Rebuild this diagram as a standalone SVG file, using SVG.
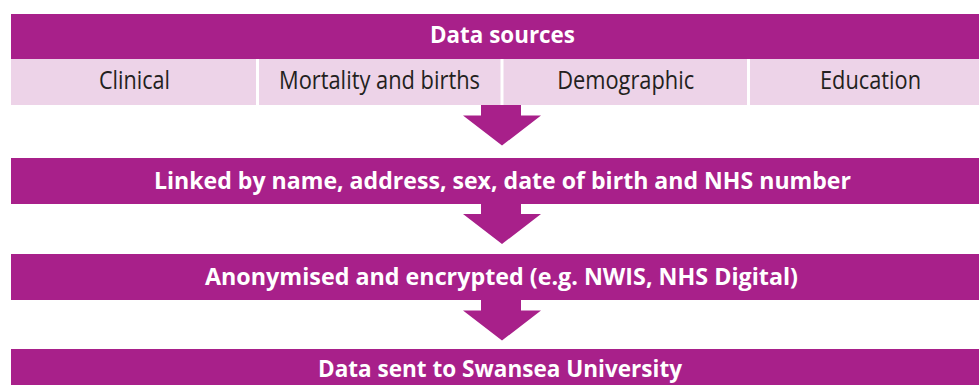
<svg xmlns="http://www.w3.org/2000/svg" width="979" height="385" viewBox="0 0 979 385">
<style>
.bar{fill:#A8208A}
.cell{fill:#EDD3E8}
.hd{font-family:"Open Sans","Liberation Sans",sans-serif;font-weight:bold;font-size:23px;fill:#FFFFFF;text-anchor:middle}
.src{font-family:"Open Sans","Liberation Sans",sans-serif;font-size:25px;fill:#231F20;text-anchor:middle}
.arrow{fill:#A8208A}
</style>
<rect width="979" height="385" fill="#FFFFFF"/>
<g id="data-sources">
<rect class="bar" x="11" y="14" width="968" height="45"/>
<text class="hd" x="502.5" y="42.5" textLength="145" lengthAdjust="spacingAndGlyphs">Data sources</text>
</g>
<g id="clinical">
<rect class="cell" x="11" y="59" width="245" height="46"/>
<text class="src" x="134.5" y="89" textLength="71" lengthAdjust="spacingAndGlyphs">Clinical</text>
</g>
<g id="mortality">
<rect class="cell" x="259" y="59" width="241.5" height="46"/>
<text class="src" x="379.5" y="89" textLength="201" lengthAdjust="spacingAndGlyphs">Mortality and births</text>
</g>
<g id="demographic">
<rect class="cell" x="503.5" y="59" width="243.5" height="46"/>
<text class="src" x="625.7" y="89" textLength="137" lengthAdjust="spacingAndGlyphs">Demographic</text>
</g>
<g id="education">
<rect class="cell" x="750" y="59" width="229" height="46"/>
<text class="src" x="870.5" y="89" textLength="101" lengthAdjust="spacingAndGlyphs">Education</text>
</g>
<g id="linked">
<rect class="bar" x="11" y="158" width="968" height="46"/>
<text class="hd" x="502.5" y="188.5" textLength="697" lengthAdjust="spacingAndGlyphs">Linked by name, address, sex, date of birth and NHS number</text>
</g>
<g id="anonymised">
<rect class="bar" x="11" y="254" width="968" height="46"/>
<text class="hd" x="501.5" y="284.5" textLength="593" lengthAdjust="spacingAndGlyphs">Anonymised and encrypted (e.g. NWIS, NHS Digital)</text>
</g>
<g id="swansea">
<rect class="bar" x="11" y="349" width="968" height="36"/>
<text class="hd" x="500" y="377" textLength="364" lengthAdjust="spacingAndGlyphs">Data sent to Swansea University</text>
</g>
<g id="connectors">
<polygon class="arrow" points="481,105 521,105 521,115.5 541,115.5 502,145.5 463,115.5 481,115.5"/>
<polygon class="arrow" points="481,204 521,204 521,214 541,214 502,244 463,214 481,214"/>
<polygon class="arrow" points="481,300 521,300 521,310.5 541,310.5 502,340.5 463,310.5 481,310.5"/>
</g>
</svg>
